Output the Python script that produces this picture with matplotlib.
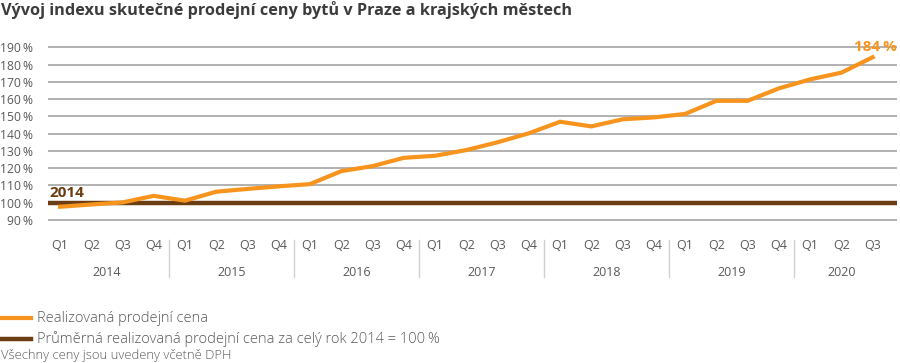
import matplotlib
matplotlib.use("Agg")
import matplotlib.pyplot as plt
from matplotlib.lines import Line2D
import matplotlib.transforms as mtransforms

plt.rcParams['font.family'] = ['Open Sans', 'DejaVu Sans']

years = ["2014", "2015", "2016", "2017", "2018", "2019", "2020"]
quarters = ["Q1", "Q2", "Q3", "Q4"]
quarter_labels = ["Q1", "Q2", "Q3", "Q4"] * 6 + ["Q1", "Q2", "Q3"]
price_index = [97.7, 99.0, 100.2, 104.0, 101.2, 106.4, 108.0, 109.5,
               110.8, 118.3, 121.2, 126.0, 127.2, 130.5, 135.0, 140.2,
               146.9, 144.2, 148.3, 149.4, 151.4, 159.0, 159.0, 166.2,
               171.4, 175.3, 184.2]
baseline = 100
y_ticks = [90, 100, 110, 120, 130, 140, 150, 160, 170, 180, 190]

orange = "#F7941D"
brown = "#6A3D12"
grid_c = "#ABABAB"
text_c = "#595959"

W, H = 900, 363
fig = plt.figure(figsize=(W / 100, H / 100), dpi=100)

ax_l, ax_r = 48, 897
ax_top, ax_bot = 43.8, 223.5
ax = fig.add_axes([ax_l / W, 1 - ax_bot / H, (ax_r - ax_l) / W, (ax_bot - ax_top) / H])

n = len(price_index)
xs = list(range(n))
ax.set_xlim(-0.384, 26.78)
ax.set_ylim(88, 192)

for v in y_ticks:
    if v != baseline:
        ax.axhline(v, color=grid_c, lw=1.3, zorder=1)
ax.axhline(baseline, color=brown, lw=3.2, zorder=2)
ax.plot(xs, price_index, color=orange, lw=3.0, zorder=3, solid_joinstyle='miter')

for s in ax.spines.values():
    s.set_visible(False)
ax.set_yticks(y_ticks)
ax.set_yticklabels([f"{v}\u2009%" for v in y_ticks])
ax.set_xticks(xs)
ax.set_xticklabels(quarter_labels)
ax.tick_params(axis='y', length=0, pad=11, labelsize=8.7, labelcolor=text_c)
ax.tick_params(axis='x', length=0, pad=11.5, labelsize=9, labelcolor=text_c)

trans = mtransforms.blended_transform_factory(ax.transData, ax.transAxes)
for i, y in enumerate(years):
    start = i * 4
    cnt = min(4, n - start)
    center = start + (cnt - 1) / 2
    ax.text(center, -0.272, y, transform=trans, ha='center', va='center',
            fontsize=9, color=text_c)
    if i > 0:
        ax.add_line(Line2D([start - 0.5, start - 0.5], [-0.09, -0.3], transform=trans,
                           color="#D0D0D0", lw=1.0, clip_on=False))

ax.text(-0.34, 101.6, "2014", ha='left', va='bottom', fontsize=11,
        fontweight='bold', color=brown)
ax.text(26.78, 186.0, f"{price_index[-1]:.0f}\u2009%", ha='right', va='bottom',
        fontsize=11, fontweight='bold', color=orange, clip_on=False)

fig.text(1 / W, 1 - 10 / H, "Vývoj indexu skutečné prodejní ceny bytů v Praze a krajských městech",
         ha='left', va='center', fontsize=11.7, fontweight='bold', color="#3C3C3C")

# legend
fig.add_artist(Line2D([0 / W, 31 / W], [1 - 318 / H, 1 - 318 / H], color=orange, lw=3.0))
fig.add_artist(Line2D([0 / W, 31 / W], [1 - 339 / H, 1 - 339 / H], color=brown, lw=3.2))
fig.text(37 / W, 1 - 318 / H, "Realizovaná prodejní cena", ha='left', va='center',
         fontsize=10.5, fontweight='light', color=text_c)
fig.text(37 / W, 1 - 339 / H, "Průměrná realizovaná prodejní cena za celý rok 2014 = 100\u2009%",
         ha='left', va='center', fontsize=10.5, fontweight='light', color=text_c)
fig.text(1 / W, 1 - 355 / H, "Všechny ceny jsou uvedeny včetně DPH", ha='left', va='center',
         fontsize=9.4, fontweight='light', color=text_c)

fig.savefig("out.png", dpi=100)
